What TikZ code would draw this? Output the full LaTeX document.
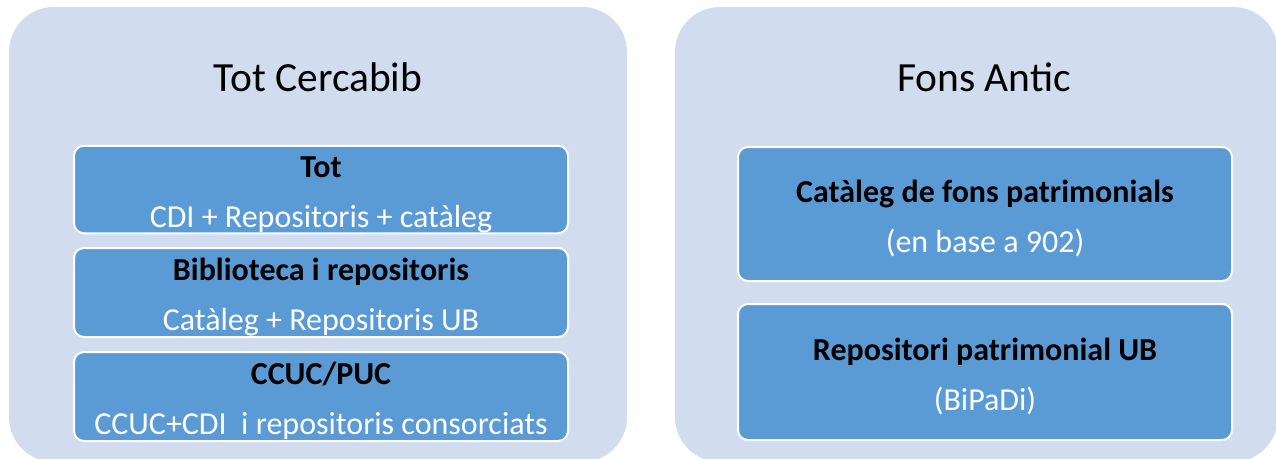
\documentclass[tikz,border=0pt]{standalone}
\usepackage{fontspec}
\setmainfont{Carlito}
\usepackage{tikz}
\definecolor{panelfill}{HTML}{D1DCEE}
\definecolor{itemfill}{HTML}{5B9BD5}
\newcommand{\itemhead}[1]{\textcolor{black}{\bfseries\rule{0pt}{32pt}#1}}

\begin{document}
\begin{tikzpicture}[x=1pt, y=-1pt, every node/.style={outer sep=0pt},
    panel/.style={rectangle, rounded corners=45pt, fill=panelfill, inner sep=0pt},
    heading/.style={font=\fontsize{41.5}{49}\selectfont, text=black},
    item/.style={rectangle, rounded corners=10pt, fill=itemfill, draw=white, line width=2pt,
      minimum width=494pt, align=center, inner sep=0pt, text=white,
      font=\fontsize{32}{50}\selectfont}]
        \useasboundingbox (0,0) rectangle (1276,458);
        \clip (0,0) rectangle (1276,458);
        % two panels
        \node (cercabib) [panel, minimum width=618pt, minimum height=455pt] at (318,234.5) {};
        \node (fonsantic) [panel, minimum width=603pt, minimum height=455pt] at (976.5,234.5) {};
        \node (cercabib-title) [heading] at (318,77) {Tot Cercabib};
        \node (fonsantic-title) [heading] at (984,77) {Fons Antic};
        % left column
        \node (tot) [item, minimum height=87pt] at (321,189.5)
          {\itemhead{Tot}\\CDI + Repositoris + catàleg};
        \node (biblio) [item, minimum height=89pt] at (321,292.5)
          {\itemhead{Biblioteca i repositoris}\\Catàleg + Repositoris UB};
        \node (ccuc) [item, minimum height=89pt] at (321,396.5)
          {\itemhead{CCUC/PUC}\\CCUC+CDI~ i repositoris consorciats};
        % right column
        \node (cataleg) [item, minimum height=134pt] at (985,214)
          {\itemhead{Catàleg de fons patrimonials}\\(en base a 902)};
        \node (bipadi) [item, minimum height=136pt] at (985,372)
          {\itemhead{Repositori patrimonial UB}\\(BiPaDi)};
    \end{tikzpicture}
\end{document}
